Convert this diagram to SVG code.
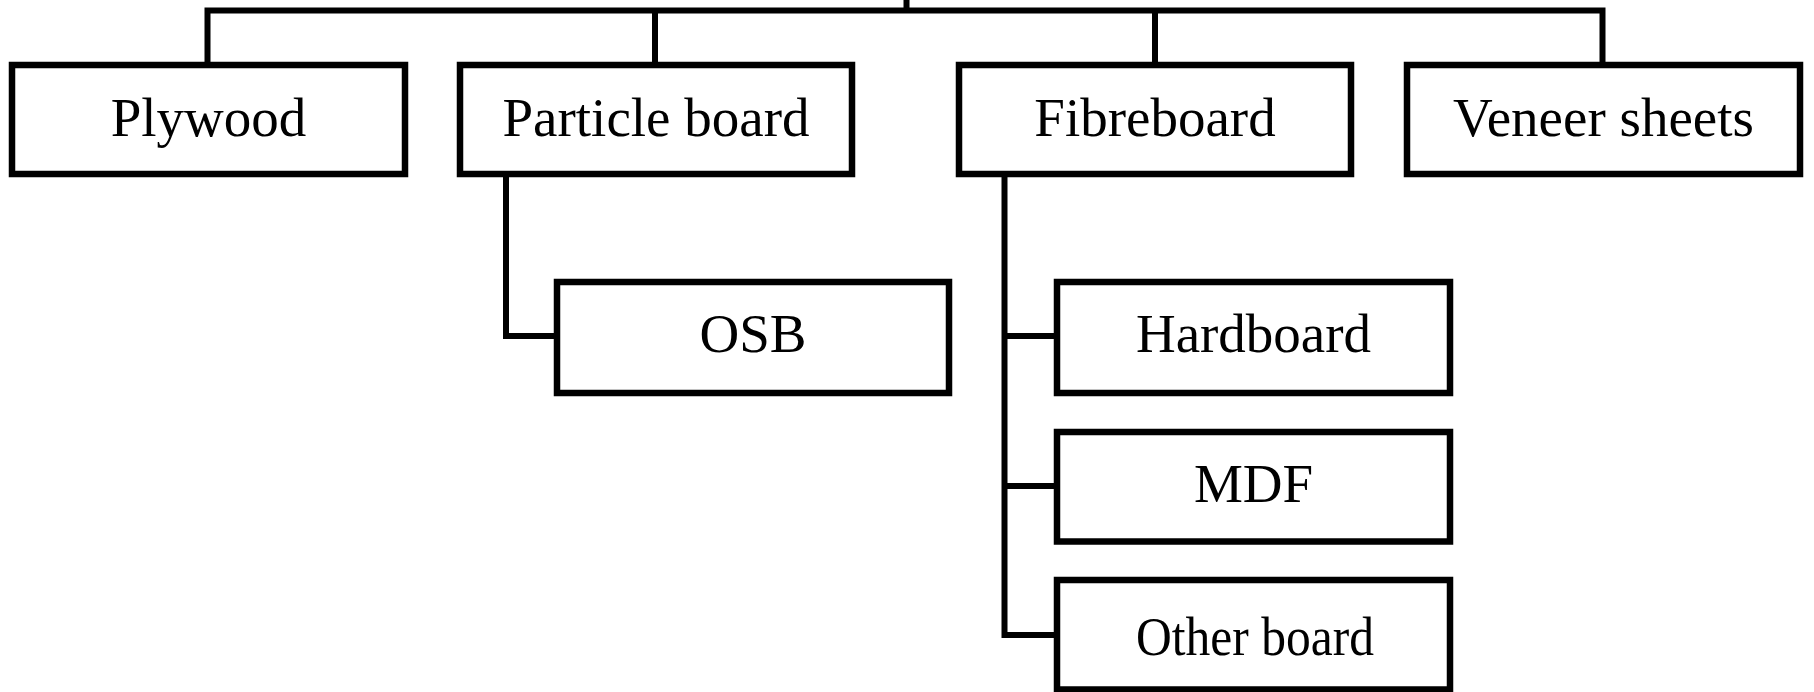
<svg xmlns="http://www.w3.org/2000/svg" width="1814" height="692" viewBox="0 0 1814 692">
<style>
.box{fill:#fff;stroke:#000;stroke-width:6.5}
.lbl{font-family:"Liberation Serif","Times New Roman",serif;font-size:55px;fill:#000;text-anchor:middle}
.c{fill:none;stroke:#000;stroke-width:6}
</style>
<rect width="1814" height="692" fill="#fff"/>
<g id="connectors">
<line class="c" x1="906.5" y1="0" x2="906.5" y2="10.5"/>
<path class="c" d="M207.5 65 V10.5 H1602.5 V65" stroke-width="7.5" stroke-linejoin="miter"/>
<line class="c" x1="655" y1="10.5" x2="655" y2="65"/>
<line class="c" x1="1155" y1="10.5" x2="1155" y2="65"/>
<path class="c" d="M506 174 V336 H557" stroke-width="5.5"/>
<path class="c" d="M1004.5 174 V635 H1057" stroke-width="5.5"/>
<line class="c" x1="1004.5" y1="336" x2="1057" y2="336" stroke-width="5.5"/>
<line class="c" x1="1004.5" y1="486" x2="1057" y2="486" stroke-width="5.5"/>
</g>
<g id="plywood"><rect class="box" x="12" y="65" width="393" height="109"/><text class="lbl" x="208.5" y="136">Plywood</text></g>
<g id="particle"><rect class="box" x="460" y="65" width="392" height="109"/><text class="lbl" x="656" y="136">Particle board</text></g>
<g id="fibreboard"><rect class="box" x="959" y="65" width="392" height="109"/><text class="lbl" x="1155" y="136">Fibreboard</text></g>
<g id="veneer"><rect class="box" x="1407" y="65" width="393" height="109"/><text class="lbl" x="1603.5" y="136">Veneer sheets</text></g>
<g id="osb"><rect class="box" x="557" y="282" width="392" height="111"/><text class="lbl" x="753" y="352">OSB</text></g>
<g id="hardboard"><rect class="box" x="1057" y="282" width="393" height="111"/><text class="lbl" x="1253.5" y="352">Hardboard</text></g>
<g id="mdf"><rect class="box" x="1057" y="432" width="393" height="109.5"/><text class="lbl" x="1253.5" y="502">MDF</text></g>
<g id="other"><rect class="box" x="1057" y="580" width="393" height="109.5"/><text class="lbl" x="1255" y="655" textLength="238" lengthAdjust="spacingAndGlyphs">Other board</text></g>
</svg>
